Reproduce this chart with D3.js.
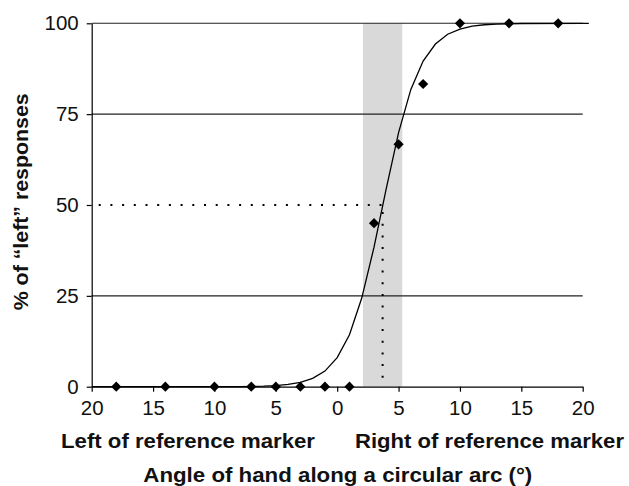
<!DOCTYPE html>
<html>
<head>
<meta charset="utf-8">
<script src="https://cdn.jsdelivr.net/npm/d3@7.9.0/dist/d3.min.js"></script>
<style>
  body { margin: 0; background: #fff; }
  svg { display: block; font-family: "Liberation Sans", Arial, sans-serif; }
</style>
</head>
<body>
<div id="chart"></div>
<script>
// Observed responses (angle in degrees, negative = left of marker)
const angles = [-18, -14, -10, -7, -5, -3, -1, 1, 3, 5, 7, 10, 14, 18];
const pctLeft = [0, 0, 0, 0, 0, 0, 0, 0, 45, 66.7, 83.3, 100, 100, 100];

const curveX = [-20, -8, -6, -5, -4, -3, -2, -1, 0, 1, 2, 3, 4, 5, 6, 7, 8, 9, 10, 11, 12, 13, 15, 20, 20.5];
const curveY = [0, 0.04, 0.15, 0.32, 0.62, 1.2, 2.3, 4.3, 8.0, 14.3, 24.4, 38.4, 54.6, 69.9, 81.8, 89.6, 94.3, 97.0, 98.4, 99.2, 99.6, 99.8, 99.95, 100, 100];

// Threshold (50%) and the 25–75% band
const threshold = 3.7;
const band = [2.1, 5.3];

const xTicks = [-20, -15, -10, -5, 0, 5, 10, 15, 20];
const yTicks = [0, 25, 50, 75, 100];
const solidGrid = [25, 75, 100];

const width = 629, height = 486;
const margin = { top: 23.3, right: 46.3, bottom: 99.3, left: 91.7 };

const svg = d3.select('#chart').append('svg')
  .attr('width', width)
  .attr('height', height);

const x = d3.scaleLinear().domain([-20, 20]).range([margin.left, width - margin.right]);
const y = d3.scaleLinear().domain([0, 100]).range([height - margin.bottom, margin.top]);

// Shaded band
svg.append('rect')
  .attr('x', x(band[0]))
  .attr('y', y(100))
  .attr('width', x(band[1]) - x(band[0]))
  .attr('height', y(0) - y(100))
  .attr('fill', '#d9d9d9');

// Gridlines
svg.append('g')
  .selectAll('line')
  .data(solidGrid)
  .join('line')
  .attr('x1', x(-20)).attr('x2', x(20))
  .attr('y1', d => y(d)).attr('y2', d => y(d))
  .attr('stroke', '#222')
  .attr('stroke-width', 1.1);

// Dotted threshold lines
const dots = svg.append('g')
  .attr('stroke', '#000')
  .attr('stroke-width', 2)
  .attr('stroke-dasharray', '2 9.7');
dots.append('line')
  .attr('x1', x(-20) + 7).attr('x2', x(threshold))
  .attr('y1', y(50)).attr('y2', y(50));
dots.append('line')
  .attr('x1', x(threshold)).attr('x2', x(threshold))
  .attr('y1', y(50) + 7).attr('y2', y(0));

// Axes
const xAxis = svg.append('g')
  .attr('transform', `translate(0,${y(0)})`)
  .call(d3.axisBottom(x).tickValues(xTicks).tickFormat(d => Math.abs(d))
    .tickSize(5).tickSizeOuter(0).tickPadding(8.5));
const yAxis = svg.append('g')
  .attr('transform', `translate(${x(-20)},0)`)
  .call(d3.axisLeft(y).tickValues(yTicks).tickSize(5).tickSizeOuter(0).tickPadding(8));

[xAxis, yAxis].forEach(g => {
  g.select('.domain').attr('stroke', '#000').attr('stroke-width', 1.2);
  g.selectAll('.tick line').attr('stroke', '#000').attr('stroke-width', 1.2);
  g.selectAll('.tick text')
    .attr('fill', '#111')
    .style('font-family', '"Liberation Sans", Arial, sans-serif');
});
xAxis.selectAll('.tick text').style('font-size', '20.5px');
yAxis.selectAll('.tick text').style('font-size', '20.5px');

// Fitted curve
const line = d3.line().x(d => x(d[0])).y(d => y(d[1]));
svg.append('path')
  .datum(curveX.map((v, i) => [v, curveY[i]]))
  .attr('d', line)
  .attr('fill', 'none')
  .attr('stroke', '#000')
  .attr('stroke-width', 1.3);

// Data points (diamonds)
const diamond = d3.symbol(d3.symbolSquare, 52);
svg.append('g')
  .selectAll('path')
  .data(angles.map((a, i) => [a, pctLeft[i]]))
  .join('path')
  .attr('d', diamond)
  .attr('transform', d => `translate(${x(d[0])},${y(d[1])}) rotate(45)`)
  .attr('fill', '#000');

// Axis titles (stretched a little to match the original's wider type)
const bold = { 'font-weight': 'bold', 'font-size': '20.5px', fill: '#111', lengthAdjust: 'spacingAndGlyphs' };
function addText(txt, attrs) {
  const t = svg.append('text').text(txt);
  Object.entries(bold).forEach(([k, v]) => t.attr(k, v));
  Object.entries(attrs).forEach(([k, v]) => t.attr(k, v));
  return t;
}
addText('Left of reference marker', { x: 61, y: 448.3, textLength: 254 });
addText('Right of reference marker', { x: 355, y: 448.3, textLength: 269 });
addText('Angle of hand along a circular arc (°)', { x: 143.3, y: 482, textLength: 389 });
addText('% of \u201Cleft\u201D responses', {
  x: -108.5, y: 0, textLength: 217,
  transform: 'translate(27.5,201.8) rotate(-90)'
});
</script>
</body>
</html>
